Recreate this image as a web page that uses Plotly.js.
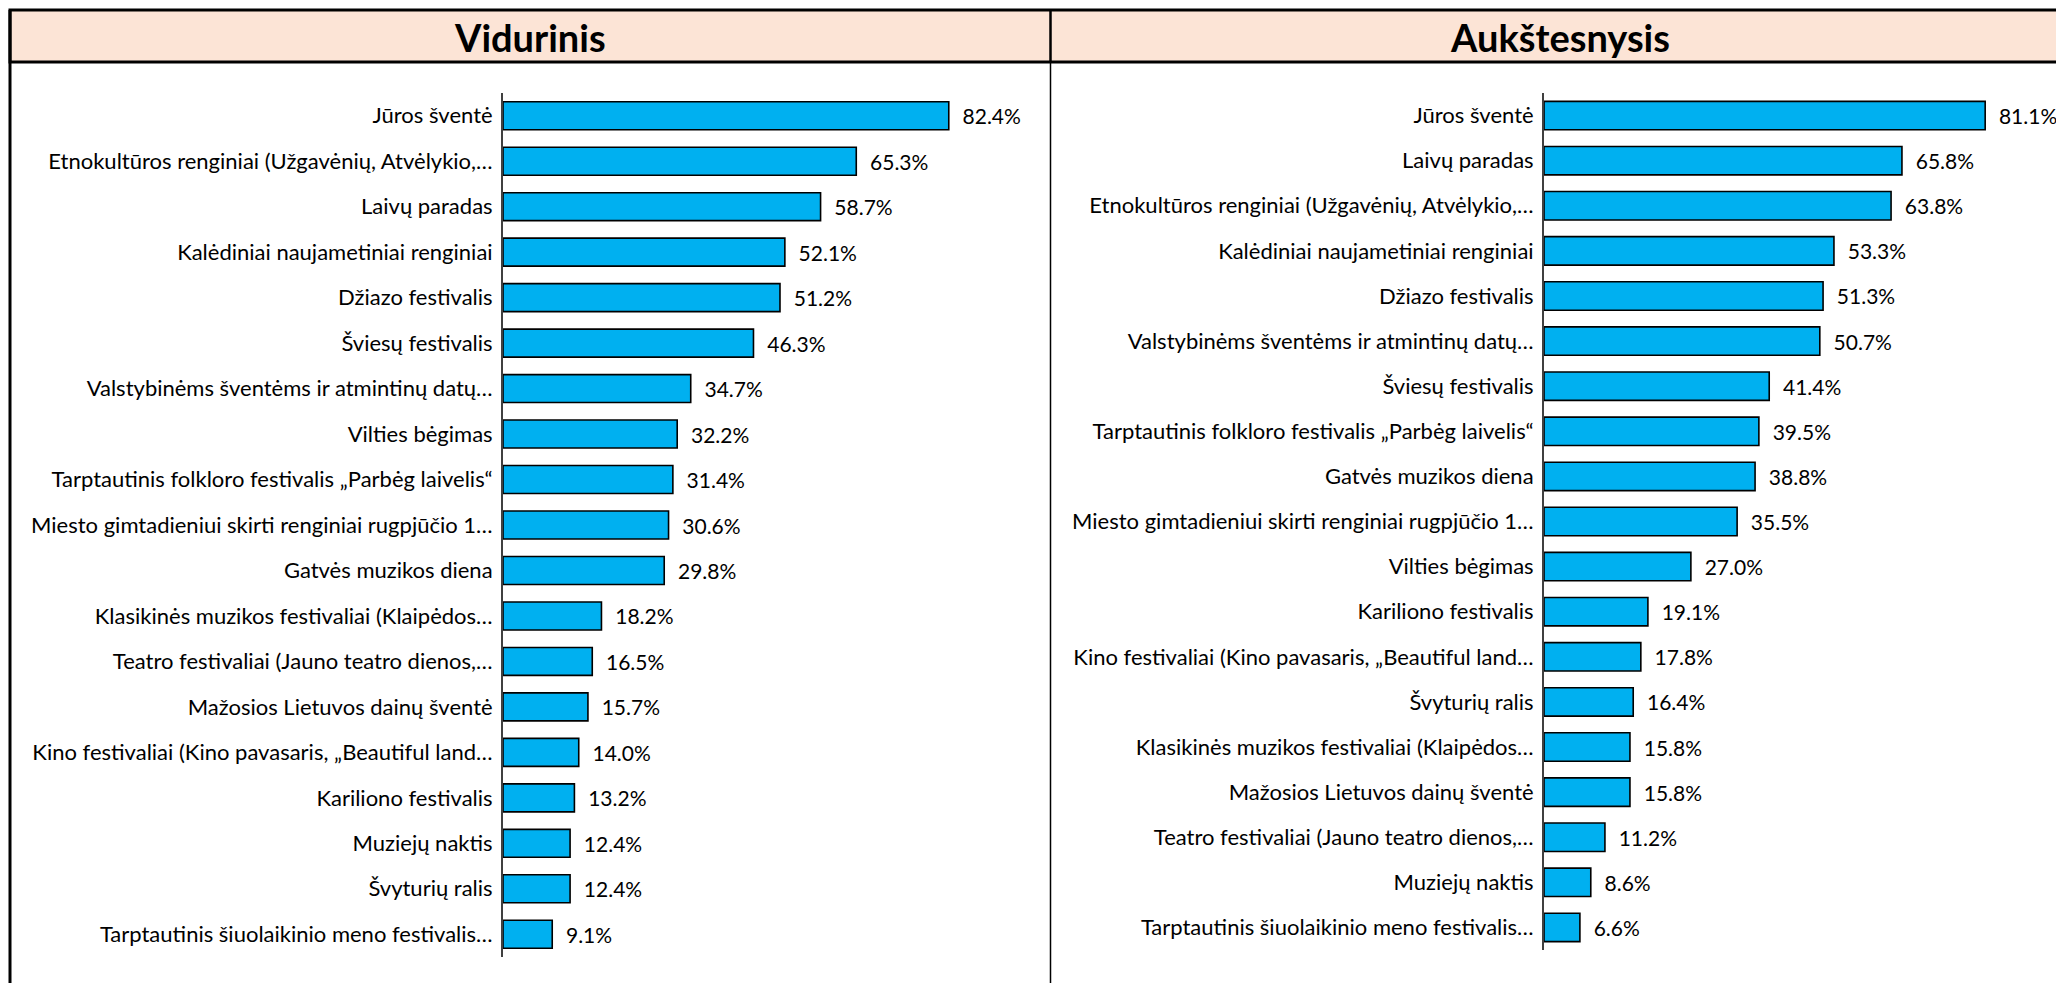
<!DOCTYPE html>
<html>
<head>
<meta charset="utf-8">
<script src="https://cdn.plot.ly/plotly-3.0.1.min.js"></script>
<style>
html,body{margin:0;padding:0;background:#fff;}
#chart{width:2056px;height:983px;}
</style>
</head>
<body>
<div id="chart"></div>
<script>
const leftTitle = "Vidurinis";
const rightTitle = "Aukštesnysis";

const leftCategories = [
  "Jūros šventė",
  "Etnokultūros renginiai (Užgavėnių, Atvėlykio,…",
  "Laivų paradas",
  "Kalėdiniai naujametiniai renginiai",
  "Džiazo festivalis",
  "Šviesų festivalis",
  "Valstybinėms šventėms ir atmintinų datų…",
  "Vilties bėgimas",
  "Tarptautinis folkloro festivalis „Parbėg laivelis“",
  "Miesto gimtadieniui skirti renginiai rugpjūčio 1…",
  "Gatvės muzikos diena",
  "Klasikinės muzikos festivaliai (Klaipėdos…",
  "Teatro festivaliai (Jauno teatro dienos,…",
  "Mažosios Lietuvos dainų šventė",
  "Kino festivaliai (Kino pavasaris, „Beautiful land…",
  "Kariliono festivalis",
  "Muziejų naktis",
  "Švyturių ralis",
  "Tarptautinis šiuolaikinio meno festivalis…"
];
const leftValues = [82.4, 65.3, 58.7, 52.1, 51.2, 46.3, 34.7, 32.2, 31.4, 30.6, 29.8, 18.2, 16.5, 15.7, 14.0, 13.2, 12.4, 12.4, 9.1];

const rightCategories = [
  "Jūros šventė",
  "Laivų paradas",
  "Etnokultūros renginiai (Užgavėnių, Atvėlykio,…",
  "Kalėdiniai naujametiniai renginiai",
  "Džiazo festivalis",
  "Valstybinėms šventėms ir atmintinų datų…",
  "Šviesų festivalis",
  "Tarptautinis folkloro festivalis „Parbėg laivelis“",
  "Gatvės muzikos diena",
  "Miesto gimtadieniui skirti renginiai rugpjūčio 1…",
  "Vilties bėgimas",
  "Kariliono festivalis",
  "Kino festivaliai (Kino pavasaris, „Beautiful land…",
  "Švyturių ralis",
  "Klasikinės muzikos festivaliai (Klaipėdos…",
  "Mažosios Lietuvos dainų šventė",
  "Teatro festivaliai (Jauno teatro dienos,…",
  "Muziejų naktis",
  "Tarptautinis šiuolaikinio meno festivalis…"
];
const rightValues = [81.1, 65.8, 63.8, 53.3, 51.3, 50.7, 41.4, 39.5, 38.8, 35.5, 27.0, 19.1, 17.8, 16.4, 15.8, 15.8, 11.2, 8.6, 6.6];

const W = 2056, H = 983;
const px = v => v / W;
const py = v => 1 - v / H;

const FONT = "Lato, Carlito, Calibri, 'Noto Sans', sans-serif";
const barColor = "#00B0F0";

function barTrace(cats, vals, xa, ya, width) {
  return {
    type: "bar",
    orientation: "h",
    y: cats,
    x: vals,
    xaxis: xa,
    yaxis: ya,
    width: width,
    marker: {color: barColor, line: {color: "#000000", width: 1.6}},
    texttemplate: "\u00A0\u00A0%{x:.1f}%",
    textposition: "outside",
    cliponaxis: false,
    textfont: {family: FONT, size: 21, color: "#000000"},
    hoverinfo: "y+x",
    showlegend: false
  };
}

const data = [
  barTrace(leftCategories, leftValues, "x", "y", 0.615),
  barTrace(rightCategories, rightValues, "x2", "y2", 0.63)
];

function yAx(domain) {
  return {
    domain: domain,
    type: "category",
    autorange: "reversed",
    showline: true,
    linecolor: "#404040",
    linewidth: 2,
    showgrid: false,
    zeroline: false,
    ticks: "",
    ticklabelstandoff: 4,
    tickfont: {family: FONT, size: 22, color: "#000000"},
    fixedrange: true
  };
}
function xAx(domain, range, anchor) {
  return {
    domain: domain,
    range: range,
    anchor: anchor,
    showgrid: false,
    zeroline: false,
    showline: false,
    showticklabels: false,
    ticks: "",
    fixedrange: true
  };
}

const pxPerUnitL = 5.41, pxPerUnitR = 5.44;
const leftAxisX = 503, rightAxisX = 1544;
const leftPlotEnd = 1046, rightPlotEnd = 2056;

const layout = {
  width: W,
  height: H,
  margin: {l: 0, r: 0, t: 0, b: 0, pad: 0},
  paper_bgcolor: "#ffffff",
  plot_bgcolor: "rgba(0,0,0,0)",
  font: {family: FONT, color: "#000000"},
  xaxis: xAx([px(leftAxisX), px(leftPlotEnd)], [0, (leftPlotEnd - leftAxisX) / pxPerUnitL], "y"),
  yaxis: Object.assign(yAx([py(957), py(93)]), {anchor: "x"}),
  xaxis2: xAx([px(rightAxisX), px(rightPlotEnd)], [0, (rightPlotEnd - rightAxisX) / pxPerUnitR], "y2"),
  yaxis2: Object.assign(yAx([py(950), py(93)]), {anchor: "x2"}),
  shapes: [
    {type: "rect", xref: "paper", yref: "paper", x0: px(10), x1: px(2080), y0: py(62), y1: py(10),
     fillcolor: "#FCE4D6", line: {color: "#000000", width: 3}, layer: "below"},
    {type: "line", xref: "paper", yref: "paper", x0: px(10), x1: px(10), y0: py(10), y1: py(1000),
     line: {color: "#000000", width: 3}},
    {type: "line", xref: "paper", yref: "paper", x0: px(1050.5), x1: px(1050.5), y0: py(10), y1: py(62),
     line: {color: "#000000", width: 2.5}},
    {type: "line", xref: "paper", yref: "paper", x0: px(1050.5), x1: px(1050.5), y0: py(62), y1: py(1000),
     line: {color: "#000000", width: 1.5}}
  ],
  annotations: [
    {text: leftTitle, xref: "paper", yref: "paper", x: px(530), y: py(37), xanchor: "center", yanchor: "middle",
     showarrow: false, font: {family: FONT, size: 38, color: "#000000", weight: "bold"}},
    {text: rightTitle, xref: "paper", yref: "paper", x: px(1560), y: py(37), xanchor: "center", yanchor: "middle",
     showarrow: false, font: {family: FONT, size: 38, color: "#000000", weight: "bold"}}
  ]
};

Plotly.newPlot("chart", data, layout, {displayModeBar: false, staticPlot: true});
</script>
</body>
</html>
